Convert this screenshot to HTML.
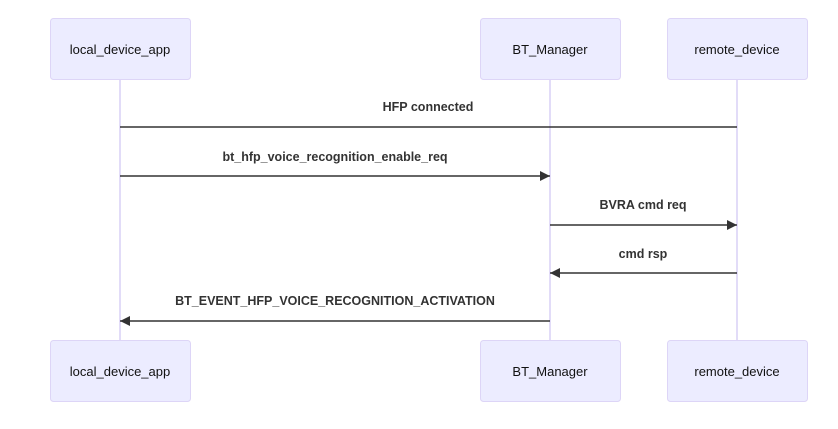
<!DOCTYPE html>
<html><head><style>
html,body{margin:0;padding:0;background:#fff;}
svg text{font-family:"Liberation Sans",Arial,sans-serif;}
</style></head><body>
<svg width="838" height="424" xmlns="http://www.w3.org/2000/svg">
<defs><marker id="a" markerWidth="12" markerHeight="12" refX="10" refY="5" orient="auto" markerUnits="userSpaceOnUse"><path d="M0,0 L10,5 L0,10 z" fill="#333"/></marker></defs>
<g stroke="#d9d0f5" stroke-width="1.5">
<line x1="120" y1="79" x2="120" y2="340"/>
<line x1="550" y1="79" x2="550" y2="340"/>
<line x1="737" y1="79" x2="737" y2="340"/>
</g>
<g fill="#ececff" stroke="#ddd5f7" stroke-width="1">
<rect x="50.5" y="18.5" width="140" height="61" rx="3"/>
<rect x="480.5" y="18.5" width="140" height="61" rx="3"/>
<rect x="667.5" y="18.5" width="140" height="61" rx="3"/>
<rect x="50.5" y="340.5" width="140" height="61" rx="3"/>
<rect x="480.5" y="340.5" width="140" height="61" rx="3"/>
<rect x="667.5" y="340.5" width="140" height="61" rx="3"/>
</g>
<g font-size="13" fill="#111" text-anchor="middle">
<text x="120" y="54">local_device_app</text>
<text x="550" y="54">BT_Manager</text>
<text x="737" y="54">remote_device</text>
<text x="120" y="376">local_device_app</text>
<text x="550" y="376">BT_Manager</text>
<text x="737" y="376">remote_device</text>
</g>
<g stroke="#333" stroke-width="1.5">
<line x1="737" y1="127" x2="120" y2="127"/>
<line x1="120" y1="176" x2="550" y2="176" marker-end="url(#a)"/>
<line x1="550" y1="225" x2="737" y2="225" marker-end="url(#a)"/>
<line x1="737" y1="273" x2="550" y2="273" marker-end="url(#a)"/>
<line x1="550" y1="321" x2="120" y2="321" marker-end="url(#a)"/>
</g>
<g font-size="12.5" font-weight="bold" fill="#333" text-anchor="middle">
<text x="428" y="111">HFP connected</text>
<text x="335" y="161">bt_hfp_voice_recognition_enable_req</text>
<text x="643" y="209">BVRA cmd req</text>
<text x="643" y="258">cmd rsp</text>
<text x="335" y="305">BT_EVENT_HFP_VOICE_RECOGNITION_ACTIVATION</text>
</g>
</svg>
</body></html>
